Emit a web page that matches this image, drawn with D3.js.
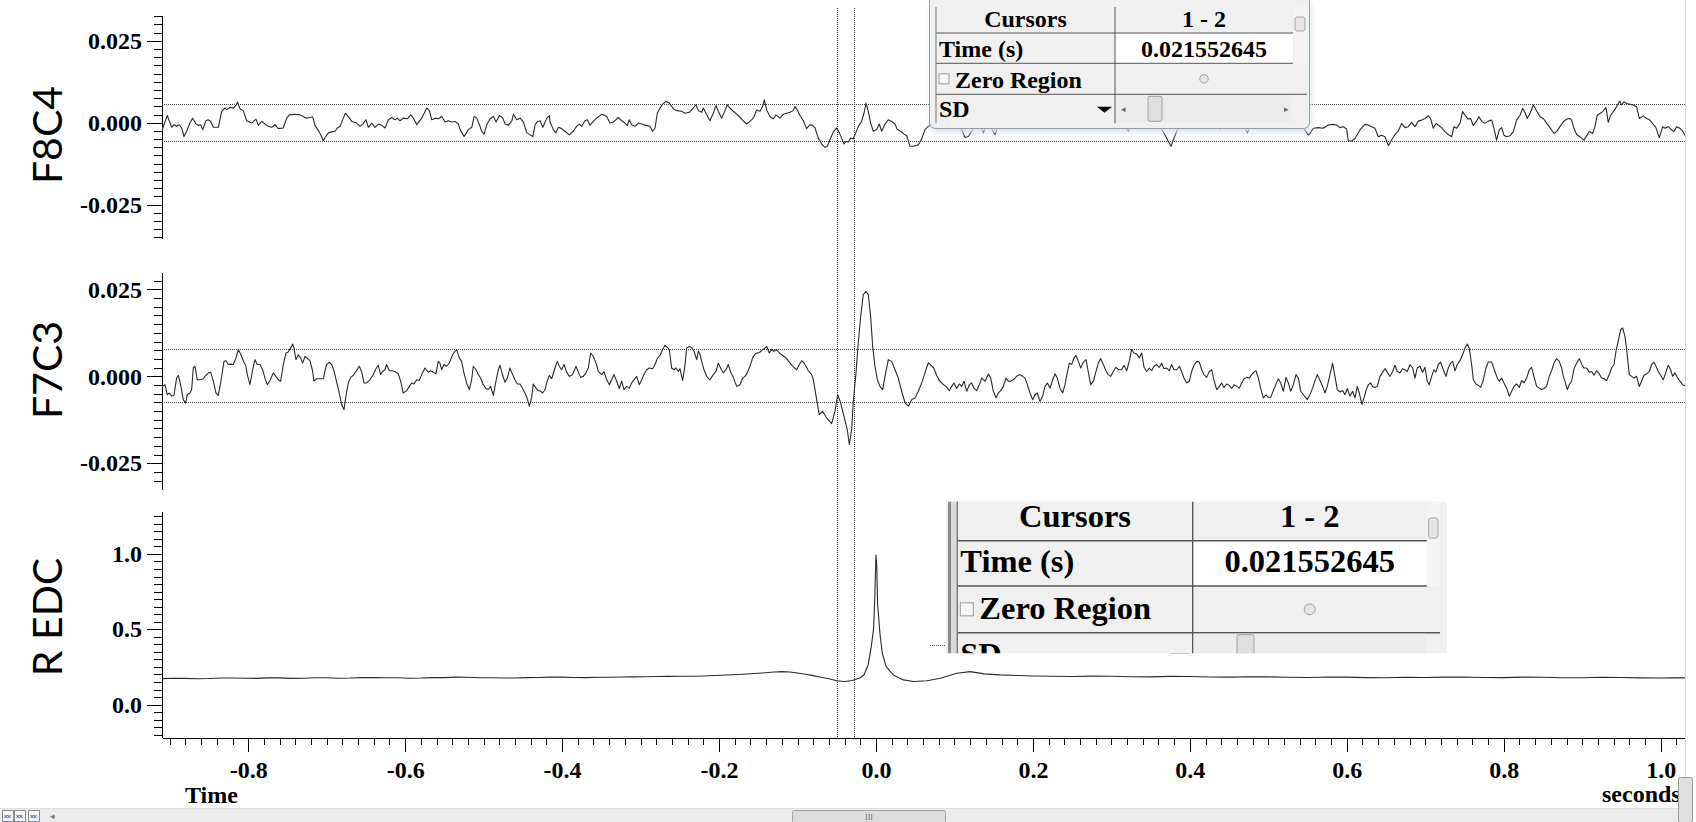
<!DOCTYPE html>
<html>
<head>
<meta charset="utf-8">
<script src="https://cdn.jsdelivr.net/npm/d3@7"></script>
<style>
  html, body { margin: 0; padding: 0; background: #fff; overflow: hidden; }
  .serif { font-family: "Liberation Serif", "Times New Roman", serif; font-weight: bold; fill: #000; }
  .axis path, .axis line { stroke: #000; shape-rendering: crispEdges; }
  .axis text { font-family: "Liberation Serif", "Times New Roman", serif; font-weight: bold; font-size: 24px; fill: #000; }
</style>
</head>
<body>
<div id="chart"></div>
<script>
// ---- data: [time (s), value] ----
var f8c4 = [
  [-0.9104,-0.0026],[-0.9032,0.0022],[-0.8976,-0.0014],[-0.8946,-0.0006],[-0.8913,-0.0011],[-0.8879,-0.0006],[-0.8849,-0.0016],[-0.8819,-0.0042],
  [-0.8785,-0.0026],[-0.8743,-0.0001],[-0.8709,0.0014],[-0.8666,-0.0004],[-0.8636,-0.0008],[-0.8607,-0.0006],[-0.8581,-0.0021],[-0.8539,0.0006],
  [-0.8509,0.0009],[-0.8479,0.0004],[-0.8445,-0.0014],[-0.8381,-0.0014],[-0.8339,0.0035],[-0.8296,0.0045],[-0.8275,0.0040],[-0.8233,0.0047],
  [-0.8190,0.0045],[-0.8156,0.0053],[-0.8135,0.0063],[-0.8105,0.0043],[-0.8063,0.0037],[-0.8020,0.0006],[-0.7956,-0.0001],[-0.7901,0.0011],
  [-0.7871,-0.0008],[-0.7829,0.0004],[-0.7786,-0.0004],[-0.7744,-0.0011],[-0.7701,-0.0014],[-0.7659,-0.0006],[-0.7616,-0.0018],[-0.7553,-0.0016],
  [-0.7510,0.0014],[-0.7476,0.0024],[-0.7404,0.0026],[-0.7340,0.0024],[-0.7298,0.0019],[-0.7255,0.0014],[-0.7213,0.0016],[-0.7179,0.0018],
  [-0.7149,-0.0008],[-0.7106,-0.0024],[-0.7077,-0.0037],[-0.7043,-0.0055],[-0.7021,-0.0045],[-0.6979,-0.0031],[-0.6936,-0.0028],[-0.6894,-0.0026],
  [-0.6864,-0.0016],[-0.6830,-0.0011],[-0.6788,0.0014],[-0.6762,0.0029],[-0.6724,0.0019],[-0.6681,0.0004],[-0.6618,-0.0001],[-0.6575,-0.0011],
  [-0.6541,-0.0004],[-0.6499,0.0009],[-0.6469,-0.0014],[-0.6426,-0.0001],[-0.6384,-0.0014],[-0.6341,-0.0004],[-0.6299,-0.0008],[-0.6256,-0.0016],
  [-0.6214,0.0009],[-0.6171,0.0016],[-0.6129,0.0009],[-0.6099,0.0014],[-0.6065,0.0006],[-0.6023,0.0014],[-0.5972,0.0012],[-0.5929,0.0024],
  [-0.5895,0.0014],[-0.5853,-0.0006],[-0.5789,0.0014],[-0.5725,0.0045],[-0.5691,0.0037],[-0.5661,0.0009],[-0.5619,0.0014],[-0.5576,0.0012],
  [-0.5534,0.0019],[-0.5491,0.0002],[-0.5449,0.0006],[-0.5406,0.0002],[-0.5364,0.0004],[-0.5321,-0.0004],[-0.5300,-0.0021],[-0.5249,-0.0042],
  [-0.5194,-0.0021],[-0.5151,-0.0014],[-0.5122,0.0019],[-0.5088,0.0014],[-0.5054,-0.0006],[-0.5024,-0.0026],[-0.4994,-0.0035],[-0.4960,-0.0006],
  [-0.4918,0.0012],[-0.4875,0.0019],[-0.4841,0.0002],[-0.4799,0.0022],[-0.4756,0.0014],[-0.4726,-0.0004],[-0.4684,-0.0008],[-0.4641,0.0006],
  [-0.4620,0.0026],[-0.4578,0.0009],[-0.4535,0.0014],[-0.4493,0.0002],[-0.4450,-0.0031],[-0.4408,-0.0037],[-0.4374,-0.0042],[-0.4344,-0.0006],
  [-0.4314,0.0004],[-0.4280,0.0006],[-0.4246,-0.0014],[-0.4195,0.0014],[-0.4161,0.0022],
  [-0.4155,0.0004],[-0.4112,-0.0021],[-0.4078,-0.0031],[-0.4048,-0.0014],[-0.4006,-0.0018],[-0.3963,-0.0026],[-0.3908,-0.0037],[-0.3857,-0.0026],
  [-0.3815,-0.0011],[-0.3781,-0.0004],[-0.3751,-0.0011],[-0.3709,0.0006],[-0.3679,0.0009],[-0.3645,-0.0008],[-0.3602,0.0004],[-0.3560,0.0014],
  [-0.3496,0.0026],[-0.3454,0.0022],[-0.3432,0.0019],[-0.3390,-0.0001],[-0.3347,0.0002],[-0.3284,0.0016],[-0.3241,0.0006],[-0.3199,-0.0001],
  [-0.3169,-0.0008],[-0.3144,0.0009],[-0.3114,-0.0006],[-0.3071,-0.0011],[-0.3029,-0.0001],[-0.2986,-0.0004],[-0.2931,-0.0008],[-0.2880,-0.0011],
  [-0.2846,-0.0026],[-0.2816,-0.0016],[-0.2787,0.0029],[-0.2753,0.0045],[-0.2719,0.0057],[-0.2676,0.0065],[-0.2634,0.0060],[-0.2583,0.0043],
  [-0.2540,0.0037],[-0.2477,0.0035],[-0.2434,0.0029],[-0.2379,0.0032],[-0.2328,0.0045],[-0.2294,0.0055],[-0.2264,0.0037],[-0.2222,0.0032],
  [-0.2200,0.0045],[-0.2167,0.0029],[-0.2116,0.0006],[-0.2073,0.0029],[-0.2039,0.0053],[-0.2009,0.0035],[-0.1967,0.0014],[-0.1924,0.0037],
  [-0.1895,0.0055],[-0.1861,0.0045],[-0.1818,0.0035],[-0.1776,0.0026],[-0.1733,0.0016],[-0.1691,0.0006],[-0.1648,-0.0004],[-0.1606,0.0004],
  [-0.1563,0.0014],[-0.1521,0.0039],[-0.1478,0.0035],[-0.1444,0.0050],[-0.1423,0.0070],[-0.1393,0.0039],[-0.1351,0.0019],[-0.1308,0.0012],
  [-0.1274,0.0024],[-0.1223,0.0014],[-0.1181,0.0026],[-0.1138,0.0029],[-0.1096,0.0032],[-0.1054,0.0037],[-0.1032,0.0050],[-0.1003,0.0039],
  [-0.0969,0.0022],[-0.0926,0.0006],[-0.0884,-0.0018],[-0.0841,-0.0006],[-0.0807,-0.0008],[-0.0777,-0.0016],[-0.0735,-0.0047],[-0.0692,-0.0065],
  [-0.0650,-0.0075],[-0.0620,-0.0072],[-0.0586,-0.0052],[-0.0544,-0.0028],[-0.0501,-0.0016],[-0.0467,-0.0031],[-0.0438,-0.0047],[-0.0408,-0.0065],
  [-0.0382,-0.0057],[-0.0353,-0.0059],[-0.0323,-0.0047],[-0.0289,-0.0049],[-0.0268,-0.0037],[-0.0225,-0.0011],[-0.0183,0.0004],[-0.0153,0.0029],
  [-0.0127,0.0060],[-0.0098,0.0035],[-0.0068,-0.0001],[-0.0034,-0.0026],[0.0008,-0.0021],[0.0042,-0.0004],[0.0072,-0.0026],[0.0115,-0.0004],
  [0.0157,0.0009],[0.0200,0.0004],[0.0242,-0.0004],[0.0272,-0.0021],[0.0315,-0.0026],[0.0357,-0.0035],[0.0391,-0.0039],[0.0433,-0.0072],
  [0.0476,-0.0072],[0.0540,-0.0067],[0.0582,-0.0050],[0.0624,-0.0021],[0.0680,-0.0008],
  [0.0731,0.0002],[0.0795,-0.0004],[0.0858,0.0006],[0.0922,-0.0001],[0.0986,0.0002],[0.1037,-0.0004],[0.1079,-0.0014],[0.1134,-0.0045],
  [0.1177,-0.0042],[0.1219,-0.0026],[0.1262,-0.0011],[0.1304,-0.0004],[0.1347,-0.0014],[0.1368,-0.0031],[0.1394,-0.0016],[0.1432,-0.0008],
  [0.1462,-0.0014],[0.1517,-0.0037],[0.1547,-0.0014],[0.1602,-0.0001],[0.1665,0.0006],[0.1750,-0.0001],[0.1835,0.0004],[0.1920,-0.0004],
  [0.2005,0.0009],[0.2090,0.0002],[0.2175,-0.0004],[0.2260,0.0006],[0.2345,0.0014],[0.2430,0.0002],[0.2515,-0.0001],[0.2600,0.0006],
  [0.2685,-0.0004],[0.2770,0.0004],[0.2855,0.0009],[0.2940,-0.0001],[0.3025,0.0002],[0.3110,-0.0004],[0.3174,-0.0011],[0.3216,-0.0026],
  [0.3246,-0.0011],[0.3301,-0.0001],[0.3386,0.0006],[0.3471,-0.0001],[0.3556,-0.0004],[0.3620,-0.0014],[0.3683,-0.0037],[0.3726,-0.0057],
  [0.3760,-0.0072],[0.3798,-0.0047],[0.3841,-0.0021],[0.3896,-0.0004],[0.3959,0.0004],[0.4044,-0.0001],[0.4129,0.0006],[0.4214,-0.0001],
  [0.4299,-0.0004],[0.4363,-0.0014],[0.4384,-0.0021],[0.4418,-0.0011],[0.4490,0.0002],[0.4575,0.0006],[0.4660,-0.0004],[0.4703,-0.0014],
  [0.4733,-0.0031],[0.4767,-0.0014],[0.4830,-0.0001],[0.4915,0.0006],[0.5000,0.0002],[0.5085,-0.0004],[0.5170,0.0004],[0.5255,0.0002],
  [0.5340,-0.0004],[0.5425,-0.0008],
  [0.5509,-0.0038],[0.5530,-0.0033],[0.5573,-0.0017],[0.5637,-0.0015],[0.5700,-0.0017],[0.5764,-0.0007],[0.5828,-0.0005],[0.5870,-0.0007],
  [0.5913,-0.0015],[0.5955,-0.0012],[0.5998,-0.0019],[0.6019,-0.0056],[0.6061,-0.0056],[0.6104,-0.0048],[0.6168,-0.0022],[0.6231,-0.0005],
  [0.6274,-0.0007],[0.6316,-0.0012],[0.6359,-0.0017],[0.6401,-0.0043],[0.6444,-0.0038],[0.6486,-0.0043],[0.6529,-0.0070],[0.6571,-0.0053],
  [0.6614,-0.0036],[0.6656,-0.0025],[0.6699,-0.0002],[0.6741,-0.0015],[0.6784,-0.0012],[0.6826,0.0001],[0.6869,-0.0012],[0.6911,0.0005],
  [0.6954,0.0008],[0.6996,0.0013],[0.7039,0.0021],[0.7068,0.0013],[0.7102,-0.0017],[0.7136,-0.0002],[0.7166,-0.0007],[0.7208,-0.0015],
  [0.7251,-0.0027],[0.7293,-0.0036],[0.7336,-0.0043],[0.7366,-0.0012],[0.7400,-0.0017],[0.7442,-0.0002],[0.7476,0.0034],[0.7506,0.0023],
  [0.7548,0.0011],[0.7578,0.0013],[0.7612,-0.0009],[0.7654,0.0005],[0.7684,0.0018],[0.7718,0.0005],[0.7761,-0.0002],[0.7803,0.0005],
  [0.7846,0.0008],[0.7875,-0.0017],[0.7909,-0.0053],[0.7943,-0.0022],[0.7973,-0.0015],[0.8003,-0.0038],[0.8037,-0.0043],[0.8079,-0.0040],
  [0.8122,-0.0027],[0.8164,0.0008],[0.8207,0.0023],[0.8241,0.0044],[0.8270,0.0032],[0.8300,0.0013],[0.8334,0.0028],[0.8377,0.0054],
  [0.8419,0.0036],[0.8462,0.0018],[0.8504,0.0013],[0.8547,-0.0002],[0.8589,-0.0015],[0.8640,-0.0033],[0.8674,-0.0027],[0.8716,-0.0012],
  [0.8759,0.0003],[0.8801,0.0011],[0.8844,0.0013],[0.8865,0.0008],[0.8895,-0.0017],[0.8929,-0.0036],[0.8971,-0.0043],[0.9022,-0.0053],
  [0.9056,-0.0040],[0.9090,-0.0027],[0.9133,-0.0033],[0.9162,-0.0012],[0.9192,0.0023],[0.9226,0.0028],[0.9260,0.0034],[0.9303,0.0046],
  [0.9332,0.0001],[0.9362,0.0023],[0.9396,0.0034],[0.9430,0.0046],[0.9460,0.0059],[0.9481,0.0066],[0.9502,0.0054],[0.9532,0.0064],
  [0.9566,0.0059],[0.9609,0.0056],[0.9651,0.0054],[0.9693,0.0049],[0.9727,0.0013],[0.9778,0.0021],[0.9821,0.0013],[0.9863,0.0008],
  [0.9906,-0.0005],[0.9940,-0.0015],[0.9982,-0.0046],[1.0025,-0.0012],[1.0054,-0.0017],[1.0097,-0.0012],[1.0127,-0.0019],[1.0169,-0.0027],
  [1.0203,-0.0012],[1.0246,-0.0017],[1.0280,-0.0025],[1.0309,-0.0038]
];

var f7c3 = [
  [-0.9125,-0.0038],[-0.9091,-0.0029],[-0.9061,-0.0024],[-0.9032,-0.0053],[-0.9006,-0.0048],[-0.8976,-0.0057],[-0.8947,-0.0055],[-0.8913,-0.0005],
  [-0.8891,0.0003],[-0.8862,-0.0024],[-0.8828,-0.0067],[-0.8798,-0.0077],[-0.8777,-0.0053],[-0.8743,-0.0048],[-0.8721,-0.0038],[-0.8700,0.0024],
  [-0.8679,0.0029],[-0.8649,-0.0010],[-0.8615,-0.0010],[-0.8573,-0.0007],[-0.8552,0.0000],[-0.8509,0.0010],[-0.8479,0.0012],[-0.8445,-0.0014],
  [-0.8411,-0.0048],[-0.8382,-0.0055],[-0.8352,-0.0019],[-0.8309,0.0043],[-0.8284,0.0045],[-0.8254,0.0034],[-0.8224,0.0035],[-0.8190,0.0034],
  [-0.8156,0.0053],[-0.8127,0.0077],[-0.8097,0.0064],[-0.8063,0.0045],[-0.8029,0.0029],[-0.8012,0.0005],[-0.7978,-0.0024],[-0.7944,0.0019],
  [-0.7914,0.0048],[-0.7885,0.0034],[-0.7851,0.0034],[-0.7817,0.0019],[-0.7787,-0.0005],[-0.7757,-0.0024],[-0.7723,-0.0012],[-0.7681,0.0010],
  [-0.7647,0.0000],[-0.7617,-0.0010],[-0.7587,-0.0014],[-0.7553,0.0034],[-0.7519,0.0067],[-0.7490,0.0070],[-0.7460,0.0081],[-0.7434,0.0093],
  [-0.7417,0.0081],[-0.7392,0.0048],[-0.7362,0.0062],[-0.7332,0.0053],[-0.7307,0.0038],[-0.7277,0.0057],[-0.7256,0.0053],[-0.7213,0.0045],
  [-0.7179,0.0014],[-0.7162,-0.0014],[-0.7128,-0.0007],[-0.7086,-0.0007],[-0.7043,-0.0007],[-0.7022,0.0016],[-0.7001,0.0034],[-0.6967,0.0040],
  [-0.6937,0.0034],[-0.6907,0.0016],[-0.6874,-0.0016],[-0.6844,-0.0043],[-0.6810,-0.0081],[-0.6780,-0.0096],[-0.6755,-0.0057],[-0.6725,-0.0019],
  [-0.6695,-0.0003],[-0.6661,0.0003],[-0.6627,0.0014],[-0.6585,0.0029],[-0.6555,0.0014],[-0.6525,-0.0019],[-0.6491,-0.0019],[-0.6449,-0.0010],
  [-0.6406,0.0005],[-0.6372,0.0022],[-0.6343,0.0032],[-0.6313,0.0005],[-0.6287,0.0014],[-0.6258,0.0019],[-0.6236,0.0034],[-0.6202,0.0016],
  [-0.6173,0.0016],[-0.6130,0.0014],[-0.6088,0.0007],[-0.6058,-0.0014],[-0.6024,-0.0048],[-0.5982,-0.0041],[-0.5947,-0.0029],[-0.5918,-0.0019],
  [-0.5888,-0.0022],[-0.5854,-0.0010],[-0.5820,-0.0012],[-0.5790,0.0005],[-0.5748,0.0024],[-0.5705,0.0012],[-0.5676,0.0016],[-0.5642,0.0012],
  [-0.5608,0.0007],[-0.5578,0.0043],[-0.5557,0.0038],[-0.5535,0.0019],[-0.5506,0.0034],[-0.5472,0.0029],[-0.5438,0.0038],[-0.5395,0.0062],
  [-0.5365,0.0072],[-0.5344,0.0077],[-0.5310,0.0053],[-0.5281,0.0043],[-0.5251,0.0010],[-0.5217,-0.0019],[-0.5183,-0.0038],[-0.5153,-0.0010],
  [-0.5132,0.0029],[-0.5098,0.0019],[-0.5068,0.0005],[-0.5039,-0.0005],[-0.5005,-0.0024],[-0.4970,-0.0035],[-0.4941,-0.0038],[-0.4911,-0.0029],
  [-0.4877,-0.0055],[-0.4843,-0.0014],[-0.4813,0.0019],[-0.4792,0.0032],[-0.4758,0.0003],[-0.4728,-0.0017],[-0.4699,-0.0005],[-0.4665,0.0024],
  [-0.4631,0.0005],[-0.4601,-0.0010],[-0.4571,-0.0022],[-0.4537,-0.0022],[-0.4503,-0.0035],[-0.4474,-0.0048],[-0.4444,-0.0064],[-0.4418,-0.0086],
  [-0.4389,-0.0062],[-0.4367,-0.0022],[-0.4333,-0.0034],[-0.4303,-0.0041],[-0.4274,-0.0043],[-0.4248,-0.0048],[-0.4218,-0.0038],[-0.4189,-0.0014],
  [-0.4163,0.0003],
  [-0.4133,-0.0007],[-0.4091,0.0024],[-0.4061,0.0043],[-0.4036,0.0029],[-0.4006,0.0019],[-0.3976,0.0034],[-0.3942,0.0012],[-0.3908,0.0000],
  [-0.3878,0.0003],[-0.3857,0.0010],[-0.3823,0.0029],[-0.3793,0.0012],[-0.3764,-0.0003],[-0.3730,0.0000],[-0.3696,0.0010],[-0.3666,0.0024],
  [-0.3636,0.0067],[-0.3602,0.0057],[-0.3568,0.0038],[-0.3539,0.0014],[-0.3496,0.0005],[-0.3466,0.0014],[-0.3432,-0.0010],[-0.3398,-0.0024],
  [-0.3369,-0.0010],[-0.3339,0.0005],[-0.3305,-0.0014],[-0.3271,-0.0035],[-0.3241,-0.0014],[-0.3211,-0.0038],[-0.3177,-0.0029],[-0.3144,-0.0034],
  [-0.3114,-0.0019],[-0.3084,-0.0010],[-0.3050,0.0000],[-0.3016,-0.0024],[-0.2986,-0.0010],[-0.2957,0.0005],[-0.2923,0.0019],[-0.2889,0.0024],
  [-0.2846,0.0022],[-0.2816,0.0034],[-0.2787,0.0051],[-0.2753,0.0060],[-0.2719,0.0077],[-0.2689,0.0089],[-0.2659,0.0083],[-0.2634,0.0077],
  [-0.2604,0.0024],[-0.2574,0.0019],[-0.2549,0.0024],[-0.2519,0.0014],[-0.2498,0.0022],[-0.2464,-0.0012],[-0.2434,0.0032],[-0.2413,0.0081],
  [-0.2379,0.0086],[-0.2349,0.0083],[-0.2319,0.0072],[-0.2285,0.0048],[-0.2264,0.0072],[-0.2243,0.0064],[-0.2222,0.0043],[-0.2192,0.0019],
  [-0.2158,0.0000],[-0.2116,-0.0010],[-0.2073,0.0005],[-0.2039,0.0014],[-0.2009,0.0038],[-0.1980,0.0024],[-0.1946,0.0010],[-0.1912,0.0019],
  [-0.1882,0.0034],[-0.1852,0.0012],[-0.1818,-0.0003],[-0.1776,-0.0029],[-0.1733,-0.0024],[-0.1699,-0.0005],[-0.1669,0.0000],[-0.1640,0.0010],
  [-0.1606,0.0029],[-0.1572,0.0053],[-0.1542,0.0064],[-0.1512,0.0067],[-0.1478,0.0070],[-0.1444,0.0077],[-0.1415,0.0081],[-0.1393,0.0086],
  [-0.1359,0.0067],[-0.1330,0.0077],[-0.1300,0.0072],[-0.1266,0.0077],[-0.1232,0.0067],[-0.1202,0.0062],[-0.1172,0.0057],[-0.1138,0.0051],
  [-0.1104,0.0041],[-0.1075,0.0032],[-0.1045,0.0026],[-0.1011,0.0019],[-0.0977,0.0034],[-0.0947,0.0045],[-0.0926,0.0041],[-0.0892,0.0029],
  [-0.0862,0.0016],[-0.0820,0.0005],[-0.0799,-0.0009],[-0.0756,-0.0067],[-0.0723,-0.0110],[-0.0679,-0.0101],[-0.0628,-0.0120],[-0.0565,-0.0136],
  [-0.0523,-0.0101],[-0.0488,-0.0053],[-0.0450,-0.0076],[-0.0408,-0.0115],[-0.0366,-0.0153],[-0.0340,-0.0196],[-0.0310,-0.0153],[-0.0290,-0.0076],
  [-0.0277,-0.0043],[-0.0255,0.0010],[-0.0226,0.0096],[-0.0195,0.0172],[-0.0162,0.0235],[-0.0127,0.0244],[-0.0098,0.0235],[-0.0068,0.0172],
  [-0.0042,0.0086],[-0.0013,0.0029],[0.0017,-0.0009],[0.0051,-0.0029],[0.0085,-0.0038],[0.0115,0.0000],[0.0157,0.0048],[0.0200,0.0043],
  [0.0242,0.0019],[0.0284,-0.0005],[0.0328,-0.0043],[0.0370,-0.0076],[0.0412,-0.0086],[0.0455,-0.0067],[0.0497,-0.0062],[0.0539,-0.0043],
  [0.0582,-0.0019],[0.0624,0.0010],[0.0667,0.0039],
  [0.0731,0.0026],[0.0773,0.0003],[0.0807,-0.0012],[0.0850,-0.0022],[0.0892,-0.0029],[0.0935,-0.0041],[0.0965,-0.0029],[0.0994,-0.0019],
  [0.1028,-0.0035],[0.1062,-0.0022],[0.1092,-0.0029],[0.1122,-0.0014],[0.1156,-0.0043],[0.1190,-0.0024],[0.1219,-0.0019],[0.1249,-0.0034],
  [0.1283,-0.0041],[0.1317,-0.0024],[0.1347,-0.0005],[0.1389,-0.0014],[0.1432,0.0007],[0.1462,-0.0005],[0.1496,-0.0043],[0.1530,-0.0062],
  [0.1559,-0.0048],[0.1589,-0.0041],[0.1623,-0.0029],[0.1657,-0.0005],[0.1687,-0.0014],[0.1716,-0.0014],[0.1750,-0.0010],[0.1793,0.0000],
  [0.1835,0.0005],[0.1869,0.0000],[0.1899,-0.0005],[0.1929,-0.0024],[0.1963,-0.0048],[0.1997,-0.0067],[0.2027,-0.0053],[0.2056,-0.0048],
  [0.2090,-0.0072],[0.2124,-0.0057],[0.2154,-0.0029],[0.2184,-0.0019],[0.2218,-0.0034],[0.2252,-0.0010],[0.2281,0.0007],[0.2311,-0.0005],
  [0.2345,-0.0034],[0.2379,-0.0048],[0.2409,-0.0024],[0.2439,0.0012],[0.2464,0.0038],[0.2494,0.0034],[0.2524,0.0053],[0.2549,0.0060],
  [0.2579,0.0043],[0.2609,0.0024],[0.2643,0.0041],[0.2677,0.0048],[0.2706,0.0012],[0.2736,-0.0024],[0.2770,-0.0014],[0.2804,0.0014],
  [0.2834,0.0038],[0.2863,0.0051],[0.2897,0.0034],[0.2931,0.0016],[0.2961,0.0005],[0.2991,0.0000],[0.3025,0.0014],[0.3059,0.0026],
  [0.3089,0.0019],[0.3131,0.0019],[0.3161,0.0032],[0.3195,0.0016],[0.3229,0.0045],[0.3258,0.0077],[0.3288,0.0067],[0.3322,0.0064],
  [0.3356,0.0053],[0.3386,0.0067],[0.3416,0.0026],[0.3450,0.0014],[0.3484,0.0024],[0.3513,0.0016],[0.3543,0.0029],[0.3577,0.0034],
  [0.3611,0.0026],[0.3641,0.0038],[0.3670,0.0022],[0.3704,0.0024],[0.3738,0.0016],[0.3768,0.0034],[0.3798,0.0019],[0.3832,0.0019],
  [0.3866,0.0029],[0.3896,0.0014],[0.3925,-0.0005],[0.3959,-0.0019],[0.3993,-0.0014],[0.4023,0.0014],[0.4053,0.0032],[0.4087,0.0043],
  [0.4121,0.0041],[0.4151,0.0019],[0.4180,0.0005],[0.4214,-0.0003],[0.4248,0.0014],[0.4278,0.0019],[0.4308,-0.0012],[0.4342,-0.0038],
  [0.4376,-0.0029],[0.4405,-0.0019],[0.4435,-0.0032],[0.4469,-0.0022],[0.4503,-0.0026],[0.4533,-0.0035],[0.4563,-0.0024],[0.4597,-0.0029],
  [0.4631,-0.0034],[0.4660,-0.0019],[0.4690,-0.0007],[0.4724,-0.0003],[0.4758,-0.0005],[0.4788,0.0005],[0.4817,0.0012],[0.4843,0.0016],
  [0.4873,-0.0005],[0.4902,-0.0034],[0.4936,-0.0062],[0.4970,-0.0053],[0.5000,-0.0060],[0.5030,-0.0060],[0.5064,-0.0041],[0.5098,-0.0022],
  [0.5128,-0.0007],[0.5157,-0.0019],[0.5191,-0.0043],[0.5225,-0.0003],[0.5255,-0.0019],[0.5285,-0.0043],[0.5319,-0.0024],[0.5353,0.0005],
  [0.5383,-0.0005],[0.5412,-0.0043],
  [0.5496,-0.0067],[0.5530,-0.0053],[0.5564,-0.0034],[0.5594,-0.0014],[0.5624,0.0005],[0.5658,-0.0012],[0.5692,-0.0029],[0.5722,-0.0048],
  [0.5751,-0.0029],[0.5785,0.0005],[0.5819,0.0038],[0.5849,0.0000],[0.5879,-0.0038],[0.5913,-0.0045],[0.5947,-0.0041],[0.5976,-0.0053],
  [0.6006,-0.0035],[0.6040,-0.0057],[0.6074,-0.0043],[0.6104,-0.0062],[0.6134,-0.0029],[0.6159,-0.0048],[0.6193,-0.0081],[0.6219,-0.0062],
  [0.6244,-0.0041],[0.6274,-0.0024],[0.6304,-0.0019],[0.6329,-0.0029],[0.6359,-0.0032],[0.6389,-0.0029],[0.6423,0.0000],[0.6457,0.0012],
  [0.6486,0.0022],[0.6516,0.0012],[0.6550,0.0000],[0.6584,0.0014],[0.6614,0.0032],[0.6643,0.0014],[0.6677,0.0010],[0.6711,0.0022],
  [0.6741,0.0019],[0.6771,0.0014],[0.6805,0.0034],[0.6839,0.0024],[0.6869,-0.0005],[0.6898,0.0024],[0.6932,0.0029],[0.6966,0.0012],
  [0.6996,0.0026],[0.7026,-0.0014],[0.7051,-0.0024],[0.7081,0.0000],[0.7111,0.0019],[0.7136,0.0012],[0.7166,0.0034],[0.7196,0.0041],
  [0.7230,0.0019],[0.7264,0.0000],[0.7293,0.0024],[0.7323,0.0038],[0.7349,0.0043],[0.7378,0.0016],[0.7408,0.0034],[0.7442,0.0045],
  [0.7476,0.0062],[0.7506,0.0081],[0.7536,0.0093],[0.7561,0.0081],[0.7591,0.0034],[0.7612,-0.0010],[0.7646,-0.0022],[0.7676,-0.0026],
  [0.7705,-0.0032],[0.7739,-0.0012],[0.7773,0.0024],[0.7803,0.0041],[0.7846,0.0041],[0.7888,0.0014],[0.7918,-0.0005],[0.7943,-0.0014],
  [0.7973,-0.0005],[0.8003,-0.0019],[0.8037,-0.0034],[0.8071,-0.0057],[0.8101,-0.0043],[0.8130,-0.0029],[0.8164,-0.0022],[0.8198,-0.0032],
  [0.8228,-0.0012],[0.8258,-0.0019],[0.8292,-0.0005],[0.8326,0.0019],[0.8355,0.0026],[0.8385,0.0000],[0.8419,-0.0029],[0.8453,-0.0034],
  [0.8483,-0.0038],[0.8512,-0.0035],[0.8546,-0.0029],[0.8580,0.0000],[0.8610,0.0016],[0.8640,0.0038],[0.8674,0.0051],[0.8708,0.0043],
  [0.8738,0.0024],[0.8759,0.0000],[0.8780,-0.0014],[0.8810,-0.0038],[0.8835,-0.0024],[0.8865,-0.0014],[0.8895,0.0022],[0.8929,0.0038],
  [0.8963,0.0051],[0.8993,0.0035],[0.9022,0.0024],[0.9056,0.0024],[0.9090,0.0012],[0.9120,0.0014],[0.9150,0.0003],[0.9184,0.0016],
  [0.9218,0.0007],[0.9247,-0.0005],[0.9277,-0.0007],[0.9311,-0.0012],[0.9345,0.0005],[0.9375,0.0024],[0.9405,0.0034],[0.9430,0.0072],
  [0.9460,0.0103],[0.9490,0.0134],[0.9515,0.0139],[0.9545,0.0115],[0.9566,0.0077],[0.9600,0.0005],[0.9630,0.0000],[0.9659,-0.0005],
  [0.9693,0.0000],[0.9727,-0.0029],[0.9757,-0.0014],[0.9787,0.0003],[0.9821,0.0007],[0.9855,0.0014],[0.9885,0.0034],[0.9914,0.0041],
  [0.9940,0.0029],[0.9970,0.0014],[1.0000,0.0003],[1.0033,-0.0010],[1.0067,0.0012],[1.0097,0.0032],[1.0127,0.0019],[1.0152,0.0000],
  [1.0182,0.0010],[1.0212,-0.0003],[1.0246,-0.0014],[1.0280,-0.0024],[1.0309,-0.0027]
];

var redc = [
  [-0.910,0.172],[-0.895,0.175],[-0.880,0.174],[-0.865,0.172],[-0.850,0.173],[-0.835,0.176],[-0.820,0.176],[-0.805,0.175],
  [-0.790,0.174],[-0.775,0.177],[-0.760,0.177],[-0.745,0.174],[-0.730,0.175],[-0.715,0.178],[-0.700,0.178],[-0.685,0.175],
  [-0.670,0.176],[-0.655,0.179],[-0.640,0.180],[-0.625,0.178],[-0.610,0.178],[-0.595,0.175],[-0.580,0.176],[-0.565,0.179],
  [-0.550,0.179],[-0.535,0.182],[-0.520,0.181],[-0.505,0.178],[-0.490,0.178],[-0.475,0.176],[-0.460,0.176],[-0.445,0.179],
  [-0.430,0.180],[-0.415,0.182],[-0.400,0.182],[-0.385,0.180],[-0.370,0.179],[-0.355,0.181],[-0.340,0.181],[-0.325,0.183],
  [-0.310,0.184],[-0.295,0.185],[-0.280,0.186],[-0.265,0.187],[-0.250,0.188],[-0.235,0.188],[-0.220,0.190],[-0.205,0.193],
  [-0.190,0.196],[-0.175,0.200],[-0.160,0.205],[-0.145,0.210],[-0.130,0.216],[-0.120,0.219],[-0.110,0.216],[-0.100,0.210],
  [-0.090,0.201],[-0.080,0.192],[-0.070,0.181],[-0.060,0.172],[-0.050,0.158],[-0.040,0.153],[-0.030,0.160],[-0.020,0.178],
  [-0.015,0.200],[-0.010,0.263],[-0.006,0.385],[-0.003,0.507],[-0.0015,0.717],[0.000,0.993],[0.001,0.916],[0.002,0.673],
  [0.005,0.474],[0.008,0.341],[0.013,0.252],[0.022,0.197],[0.035,0.164],[0.048,0.153],[0.065,0.158],[0.082,0.175],
  [0.103,0.208],[0.120,0.219],[0.138,0.204],[0.158,0.197],[0.180,0.193],[0.200,0.190],[0.225,0.188],[0.250,0.186],
  [0.275,0.189],[0.300,0.188],[0.325,0.185],[0.350,0.184],[0.375,0.187],[0.400,0.186],[0.425,0.183],[0.450,0.182],
  [0.475,0.185],[0.500,0.184],[0.525,0.181],[0.550,0.180],[0.575,0.183],[0.600,0.182],[0.625,0.179],[0.650,0.178],
  [0.675,0.181],[0.700,0.180],[0.725,0.182],[0.750,0.183],[0.775,0.180],[0.800,0.179],[0.825,0.182],[0.850,0.181],
  [0.875,0.178],[0.900,0.178],[0.925,0.181],[0.950,0.180],[0.975,0.177],[1.000,0.176],[1.015,0.178],[1.031,0.177]
];

var sdF8C4 = [0.0056, -0.0057];
var sdF7C3 = [0.0079, -0.0075];
var cursorTimes = [-0.0497, -0.0282];
var panelNames = ["F8C4", "F7C3", "R EDC"];
var timeTicks = [-0.8, -0.6, -0.4, -0.2, 0.0, 0.2, 0.4, 0.6, 0.8, 1.0];
var cursorHeader = ["Cursors", "1 - 2"];
var cursorRows = ["Time (s)", "Zero Region", "SD"];
var cursorDelta = "0.021552645";

// ---- layout ----
var W = 1696, H = 822;
var svg = d3.select("#chart").append("svg")
    .attr("width", W)
    .attr("height", H)
    .style("display", "block");

var defs = svg.append("defs");
defs.append("clipPath").attr("id", "plotclip")
    .append("rect").attr("x", 162).attr("y", 0).attr("width", 1523).attr("height", 740);
defs.append("clipPath").attr("id", "popclip")
    .append("rect").attr("x", 946).attr("y", 501.7).attr("width", 501).attr("height", 151.5);
var blur = defs.append("filter").attr("id", "glow").attr("x", "-10%").attr("y", "-10%").attr("width", "120%").attr("height", "130%");
blur.append("feGaussianBlur").attr("stdDeviation", 3);

var x = d3.scaleLinear().domain([-0.9099, 1.031]).range([162, 1685]);

var fmt = function (digits) {
    return function (d) {
        var s = Math.abs(d).toFixed(digits);
        return (d < -1e-9 ? "-" : "") + s;
    };
};

var panels = [
    { name: panelNames[0], data: f8c4, sd: sdF8C4, domain: [-0.0352, 0.0329], range: [238, 15],
      major: [-0.025, 0, 0.025], step: 0.0025, digits: 3, labelY: 135 },
    { name: panelNames[1], data: f7c3, sd: sdF7C3, domain: [-0.0324, 0.0298], range: [489, 272.7],
      major: [-0.025, 0, 0.025], step: 0.0025, digits: 3, labelY: 370 },
    { name: panelNames[2], data: redc, sd: null, domain: [-0.217, 1.28], range: [737.3, 511.7],
      major: [0, 0.5, 1.0], step: 0.05, digits: 1, labelY: 617 }
];

panels.forEach(function (p) {
    var y = d3.scaleLinear().domain(p.domain).range(p.range);
    var minor = d3.range(Math.ceil(p.domain[0] / p.step - 1e-6), Math.floor(p.domain[1] / p.step + 1e-6) + 1)
        .map(function (i) { return i * p.step; });

    // minor ticks
    svg.append("g")
        .attr("class", "axis")
        .attr("transform", "translate(162,0)")
        .call(d3.axisLeft(y).tickValues(minor).tickSize(8).tickSizeOuter(0).tickFormat(""));

    // major ticks + labels
    svg.append("g")
        .attr("class", "axis")
        .attr("transform", "translate(162,0)")
        .call(d3.axisLeft(y).tickValues(p.major).tickSize(15).tickSizeOuter(0).tickPadding(5).tickFormat(fmt(p.digits)))
        .call(function (g) { g.select(".domain").remove(); });

    // channel name
    svg.append("text")
        .attr("transform", "translate(47," + p.labelY + ") rotate(-90)")
        .attr("text-anchor", "middle")
        .attr("dy", "0.36em")
        .style("font-family", "Lato, 'Open Sans', sans-serif")
        .style("font-size", "41px")
        .style("fill", "#000")
        .text(p.name);

    var plot = svg.append("g").attr("clip-path", "url(#plotclip)");

    // +/- SD guides
    if (p.sd) {
        plot.selectAll(null)
            .data(p.sd)
            .enter().append("line")
            .attr("x1", 162).attr("x2", 1685)
            .attr("y1", function (d) { return Math.round(y(d)) + 0.5; })
            .attr("y2", function (d) { return Math.round(y(d)) + 0.5; })
            .attr("stroke", "#444")
            .attr("stroke-width", 1)
            .attr("stroke-dasharray", "1,1");
    }

    // trace
    plot.append("path")
        .datum(p.data)
        .attr("fill", "none")
        .attr("stroke", "#2a2a2a")
        .attr("stroke-width", 1.1)
        .attr("stroke-linejoin", "round")
        .attr("d", d3.line()
            .x(function (d) { return x(d[0]); })
            .y(function (d) { return y(d[1]); }));
});

// time axis
var minorT = d3.range(-45, 52).map(function (i) { return i * 0.02; });
svg.append("g")
    .attr("class", "axis")
    .attr("transform", "translate(0,738)")
    .call(d3.axisBottom(x).tickValues(minorT).tickSize(7).tickSizeOuter(0).tickFormat(""));
svg.append("g")
    .attr("class", "axis")
    .attr("transform", "translate(0,738)")
    .call(d3.axisBottom(x).tickValues(timeTicks).tickSize(14).tickSizeOuter(0).tickPadding(9).tickFormat(fmt(1)))
    .call(function (g) { g.select(".domain").remove(); });

svg.append("text").attr("class", "serif").attr("x", 185).attr("y", 803).style("font-size", "24px").text("Time");
svg.append("text").attr("class", "serif").attr("x", 1602).attr("y", 802).style("font-size", "24px").text("seconds");

// cursors
svg.selectAll(null)
    .data(cursorTimes)
    .enter().append("line")
    .attr("x1", function (d) { return Math.round(x(d)) + 0.5; })
    .attr("x2", function (d) { return Math.round(x(d)) + 0.5; })
    .attr("y1", 8).attr("y2", 738)
    .attr("stroke", "#333")
    .attr("stroke-width", 1)
    .attr("stroke-dasharray", "1,1");

// right window edge
svg.append("line").attr("x1", 1685.5).attr("x2", 1685.5).attr("y1", 0).attr("y2", H)
    .attr("stroke", "#d8d8d8");

// ---- cursor table popups ----
function drawTable(g, o) {
    var rows = o.rows;
    var fs = o.fs;
    g.append("rect").attr("x", o.x0).attr("y", rows[0]).attr("width", o.xs - o.x0).attr("height", rows[4] - rows[0])
        .attr("fill", "#f0f0f0");
    g.append("rect").attr("x", o.xc).attr("y", rows[1]).attr("width", o.xr - o.xc).attr("height", rows[2] - rows[1])
        .attr("fill", "#fff");
    // grid
    [rows[1], rows[2], rows[3]].forEach(function (yy, i) {
        g.append("line").attr("x1", o.x0).attr("x2", i === 2 ? o.xs : o.xr).attr("y1", yy).attr("y2", yy)
            .attr("stroke", "#555").attr("stroke-width", o.lw);
    });
    g.append("line").attr("x1", o.x0).attr("x2", o.x0).attr("y1", rows[0]).attr("y2", rows[4]).attr("stroke", "#777").attr("stroke-width", o.lw);
    g.append("line").attr("x1", o.xc).attr("x2", o.xc).attr("y1", rows[0]).attr("y2", rows[4]).attr("stroke", "#555").attr("stroke-width", o.lw);
    // right scroll column
    g.append("rect").attr("x", o.xr + 1).attr("y", rows[0]).attr("width", o.xs - o.xr - 1).attr("height", rows[2] - rows[0])
        .attr("fill", "#f4f4f4");
    g.append("rect").attr("x", o.xr + 2).attr("y", o.vThumb[0]).attr("width", o.xs - o.xr - 4).attr("height", o.vThumb[1] - o.vThumb[0])
        .attr("rx", 2).attr("fill", "#e6e6e6").attr("stroke", "#a8a8a8");
    // texts
    var cx1 = (o.x0 + o.xc) / 2, cx2 = (o.xc + o.xr) / 2;
    var t = function (xx, yy, s, anchor) {
        return g.append("text").attr("class", "serif").attr("x", xx).attr("y", yy)
            .attr("text-anchor", anchor).style("font-size", fs + "px").text(s);
    };
    t(cx1, rows[1] - o.base, cursorHeader[0], "middle");
    t(cx2, rows[1] - o.base, cursorHeader[1], "middle");
    t(o.x0 + o.pad, rows[2] - o.base, cursorRows[0], "start");
    t(cx2, rows[2] - o.base, cursorDelta, "middle");
    t(o.x0 + o.pad + o.cb + o.pad * 2, rows[3] - o.base, cursorRows[1], "start");
    t(o.x0 + o.pad, rows[4] - o.base, cursorRows[2], "start");
    // checkbox + radio
    var cbY = (rows[2] + rows[3]) / 2 - o.cb / 2;
    g.append("rect").attr("x", o.x0 + o.pad).attr("y", cbY).attr("width", o.cb).attr("height", o.cb)
        .attr("fill", "#f6f6f6").attr("stroke", "#9a9a9a");
    g.append("circle").attr("cx", cx2).attr("cy", (rows[2] + rows[3]) / 2).attr("r", o.cb * 0.42)
        .attr("fill", "#e6e6e6").attr("stroke", "#a0a0a0");
    // dropdown arrow
    var ay = (rows[3] + rows[4]) / 2 - o.cb * 0.2;
    g.append("path")
        .attr("d", "M" + (o.xc - o.pad - o.cb * 1.5) + "," + ay + "h" + (o.cb * 1.5) + "l" + (-o.cb * 0.75) + "," + (o.cb * 0.6) + "z")
        .attr("fill", "#000");
    // horizontal scroller in SD row
    g.append("rect").attr("x", o.xc + 1).attr("y", rows[3] + 1).attr("width", o.xr - o.xc - 2).attr("height", rows[4] - rows[3] - 2)
        .attr("fill", "#ececec");
    g.append("rect").attr("x", o.hThumb[0]).attr("y", rows[3] + 2).attr("width", o.hThumb[1] - o.hThumb[0]).attr("height", rows[4] - rows[3] - 4)
        .attr("rx", 2).attr("fill", "#dedede").attr("stroke", "#a0a0a0");
    g.append("text").attr("x", o.xc + o.pad * 2).attr("y", (rows[3] + rows[4]) / 2 + 3).style("font-size", "9px").style("fill", "#666").text("\u25C2");
    g.append("text").attr("x", o.xr - o.pad * 3).attr("y", (rows[3] + rows[4]) / 2 + 3).style("font-size", "9px").style("fill", "#666").text("\u25B8");
}

// top popup
var pop1 = svg.append("g");
pop1.append("rect").attr("x", 931).attr("y", 2).attr("width", 380).attr("height", 130).attr("rx", 7)
    .attr("fill", "#cfe3f0").attr("filter", "url(#glow)");
pop1.append("rect").attr("x", 929.5).attr("y", -10).attr("width", 380).attr("height", 138.5).attr("rx", 6)
    .attr("fill", "#f0f0f0").attr("stroke", "#9c9c9c");
drawTable(pop1, { x0: 936, xc: 1115, xr: 1293, xs: 1307, rows: [7, 33, 63.3, 94.3, 123.3], fs: 24, base: 6.5,
    pad: 3, cb: 10, lw: 1, vThumb: [17, 31], hThumb: [1148, 1162] });

// bottom (magnified) popup
var pop2 = svg.append("g").attr("clip-path", "url(#popclip)");
pop2.append("rect").attr("x", 946).attr("y", 500).attr("width", 501).attr("height", 155).attr("fill", "#f0f0f0");
pop2.append("rect").attr("x", 948).attr("y", 500).attr("width", 3).attr("height", 155).attr("fill", "#8a8a8a");
pop2.append("rect").attr("x", 951).attr("y", 500).attr("width", 6).attr("height", 155).attr("fill", "#dadada");
drawTable(pop2, { x0: 957.3, xc: 1192.7, xr: 1426.7, xs: 1440, rows: [495, 540.7, 586, 632.7, 679], fs: 32.5, base: 14,
    pad: 3, cb: 13, lw: 1.4, vThumb: [518, 538], hThumb: [1237, 1254] });
svg.append("line").attr("x1", 930).attr("x2", 945).attr("y1", 645.5).attr("y2", 645.5)
    .attr("stroke", "#555").attr("stroke-dasharray", "1,1");

// ---- window scrollbars ----
svg.append("rect").attr("x", 0).attr("y", 808).attr("width", 1678).attr("height", 14).attr("fill", "#ececec");
svg.append("line").attr("x1", 0).attr("x2", 1678).attr("y1", 808.5).attr("y2", 808.5).attr("stroke", "#e0e0e0");
svg.append("rect").attr("x", 792.5).attr("y", 810.5).attr("width", 153).attr("height", 13).attr("rx", 2)
    .attr("fill", "#dcdcdc").attr("stroke", "#a6a6a6");
svg.append("text").attr("x", 869).attr("y", 820).attr("text-anchor", "middle")
    .style("font-size", "8px").style("fill", "#777").text("III");
svg.append("text").attr("x", 50).attr("y", 819).style("font-size", "9px").style("fill", "#777").text("\u25C2");
[2, 14, 28].forEach(function (ix) {
    svg.append("rect").attr("x", ix + 0.5).attr("y", 810.5).attr("width", 11).attr("height", 11)
        .attr("fill", "#f4f4f4").attr("stroke", "#8c8c8c");
    svg.append("path").attr("d", "M" + (ix + 2.5) + ",818 l3,-3 l3,3 M" + (ix + 2.5) + ",815 l3,3 l3,-3")
        .attr("fill", "none").attr("stroke", "#2a56d8").attr("stroke-width", 1);
});
svg.append("rect").attr("x", 1678.5).attr("y", 777.5).attr("width", 14).attr("height", 45).attr("rx", 2)
    .attr("fill", "#dedede").attr("stroke", "#9a9a9a");
</script>
</body>
</html>
